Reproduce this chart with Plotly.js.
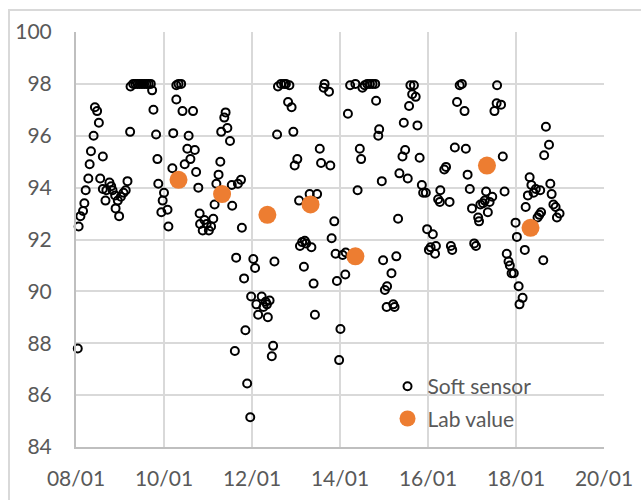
<!DOCTYPE html>
<html>
<head>
<meta charset="utf-8">
<script src="https://cdn.plot.ly/plotly-3.0.1.min.js"></script>
<style>
  html, body { margin: 0; padding: 0; background: #fff; overflow: hidden; }
  #chart { width: 641px; height: 500px; position: absolute; left: 0; top: 0; }
  #frame { position: absolute; left: 8px; top: 9px; width: 700px; height: 600px;
           border: 2px solid #d9d9d9; pointer-events: none; }
</style>
</head>
<body>
<div id="chart"></div>
<div id="frame"></div>
<script>
// ---- data (x in days: 8 = 08/01, 10 = 10/01, ...) ----
const softX = [
  8.04, 8.06, 8.10, 8.16, 8.19, 8.22, 8.28, 8.31, 8.34, 8.40, 8.43, 8.48, 8.52, 8.61, 8.55, 8.61, 8.67, 8.69, 8.76, 8.80,
  8.83, 8.89, 8.90, 8.95, 8.98, 9.02, 9.08, 9.13, 9.17, 9.23, 9.24, 9.30, 9.35, 9.40, 9.45, 9.50, 9.55, 9.60, 9.65, 9.70,
  9.73, 9.76, 9.82, 9.85, 9.87, 10.00, 9.97, 9.94, 10.08, 10.10, 10.19, 10.21, 10.28, 10.28, 10.33, 10.39, 10.42, 10.66, 10.56, 10.53,
  10.60, 10.70, 10.47, 10.73, 10.78, 10.81, 10.82, 10.88, 10.92, 10.97, 11.02, 11.07, 11.12, 11.15, 11.19, 11.24, 11.28, 11.30, 11.37, 11.40,
  11.44, 11.50, 11.55, 11.54, 11.68, 11.75, 11.61, 11.64, 11.77, 11.82, 11.85, 11.89, 11.96, 11.98, 12.03, 12.07, 12.10, 12.14, 12.22, 12.26,
  12.31, 12.34, 12.40, 12.36, 12.45, 12.48, 12.51, 12.57, 12.59, 12.66, 12.73, 12.77, 12.85, 12.82, 12.90, 12.94, 12.97, 13.03, 13.07, 13.09,
  13.14, 13.20, 13.23, 13.18, 13.31, 13.48, 13.35, 13.40, 13.43, 13.54, 13.57, 13.65, 13.63, 13.75, 13.78, 13.81, 13.87, 13.90, 13.93, 14.01,
  13.98, 14.06, 14.13, 14.12, 14.18, 14.23, 14.35, 14.40, 14.45, 14.48, 14.51, 14.56, 14.62, 14.68, 14.74, 14.80, 14.82, 14.87, 14.89, 14.95,
  14.98, 15.02, 15.07, 15.06, 15.17, 15.21, 15.24, 15.28, 15.32, 15.35, 15.42, 15.45, 15.48, 15.54, 15.57, 15.60, 15.68, 15.64, 15.72, 15.76,
  15.81, 15.86, 15.89, 15.95, 15.98, 16.02, 16.06, 16.11, 16.16, 16.18, 16.28, 16.23, 16.27, 16.37, 16.41, 16.49, 16.52, 16.55, 16.61, 16.66,
  16.72, 16.77, 16.83, 16.86, 16.90, 16.95, 17.00, 17.05, 17.09, 17.14, 17.16, 17.19, 17.25, 17.29, 17.32, 17.36, 17.40, 17.46, 17.51, 17.57,
  17.56, 17.66, 17.70, 17.74, 17.79, 17.83, 17.86, 17.90, 17.95, 17.99, 18.02, 18.06, 18.08, 18.15, 18.20, 18.22, 18.27, 18.31, 18.35, 18.40,
  18.45, 18.49, 18.53, 18.57, 18.55, 18.62, 18.64, 18.68, 18.75, 18.78, 18.81, 18.85, 18.90, 18.93, 18.99
];
const softY = [
  87.8, 92.5, 92.9, 93.1, 93.4, 93.9, 94.35, 94.9, 95.4, 96.0, 97.1, 96.95, 96.5, 95.2, 94.35, 93.95, 93.5, 93.9, 94.2, 94.05,
  93.9, 93.7, 93.2, 93.5, 92.9, 93.65, 93.8, 93.9, 94.25, 96.15, 97.9, 98.0, 98.0, 98.0, 98.0, 98.0, 98.0, 98.0, 98.0, 98.0,
  97.75, 97.0, 96.05, 95.1, 94.15, 93.8, 93.5, 93.05, 93.15, 92.5, 94.75, 96.1, 97.4, 97.95, 98.0, 98.0, 96.95, 96.95, 96.0, 95.5,
  95.1, 95.45, 94.9, 94.6, 94.0, 93.0, 92.6, 92.35, 92.75, 92.6, 92.35, 92.5, 92.8, 93.35, 94.15, 94.5, 95.0, 96.15, 96.7, 96.9,
  96.3, 95.8, 93.3, 94.1, 94.15, 94.3, 87.7, 91.3, 92.45, 90.5, 88.5, 86.45, 85.15, 89.8, 91.25, 90.9, 89.5, 89.1, 89.8, 89.4,
  89.6, 89.5, 89.65, 89.0, 87.5, 87.9, 91.15, 96.05, 97.9, 98.0, 98.0, 98.0, 97.95, 97.3, 97.1, 96.15, 94.85, 95.1, 93.5, 91.75,
  91.9, 91.95, 91.85, 90.95, 93.75, 93.75, 91.7, 90.3, 89.1, 95.5, 94.95, 98.0, 97.85, 97.7, 94.85, 92.05, 92.7, 91.45, 90.4, 88.55,
  87.35, 91.4, 91.5, 90.65, 96.85, 97.95, 98.0, 93.9, 95.5, 95.1, 97.85, 97.95, 98.0, 98.0, 98.0, 98.0, 97.35, 96.0, 96.25, 94.25,
  91.2, 90.05, 90.2, 89.4, 90.7, 89.5, 89.4, 91.35, 92.8, 94.55, 95.2, 96.5, 95.45, 94.35, 97.15, 97.95, 97.95, 97.6, 97.5, 96.4,
  95.15, 94.1, 93.8, 93.8, 92.4, 91.6, 91.7, 92.2, 91.45, 91.75, 93.9, 93.55, 93.45, 94.7, 94.8, 93.45, 91.75, 91.6, 95.55, 97.3,
  97.95, 98.0, 96.95, 95.5, 94.5, 93.95, 93.2, 91.85, 91.75, 92.85, 92.7, 93.35, 93.4, 93.5, 93.85, 93.05, 93.45, 93.65, 96.95, 97.95,
  97.25, 97.2, 95.2, 93.85, 91.45, 91.15, 91.0, 90.7, 90.7, 92.65, 92.1, 90.2, 89.5, 89.75, 91.6, 93.25, 93.7, 94.4, 94.1, 93.8,
  93.95, 92.85, 92.95, 93.05, 93.9, 91.2, 95.25, 96.35, 95.65, 94.15, 93.75, 93.35, 93.25, 92.85, 93.0
];
const labX = [10.33, 11.32, 12.35, 13.33, 14.35, 17.34, 18.33];
const labY = [94.3, 93.75, 92.95, 93.35, 91.35, 94.85, 92.45];
const xTickVals = [8, 10, 12, 14, 16, 18, 20];
const xTickText = ['08/01', '10/01', '12/01', '14/01', '16/01', '18/01', '20/01'];
const yTickVals = [84, 86, 88, 90, 92, 94, 96, 98, 100];

const fontFam = 'Lato, "Open Sans", sans-serif';
const gray = '#595959';

const traces = [
  {
    type: 'scatter', mode: 'markers', name: 'Soft sensor',
    x: softX, y: softY, legendgroup: 'a',
    marker: { symbol: 'circle-open', size: 8, color: '#000', line: { width: 2, color: '#000' } },
    cliponaxis: false
  },
  {
    type: 'scatter', mode: 'markers', name: 'Lab value',
    x: labX, y: labY, legendgroup: 'b',
    marker: { symbol: 'circle', size: 18, color: '#ED7D31' },
    cliponaxis: false
  }
];

const layout = {
  width: 641, height: 500,
  margin: { l: 76, r: 37, t: 32, b: 53 },
  paper_bgcolor: 'rgba(0,0,0,0)', plot_bgcolor: 'rgba(0,0,0,0)',
  font: { family: fontFam, size: 21, color: gray },
  showlegend: true,
  legend: {
    x: 0.59, y: 0.195, xanchor: 'left', yanchor: 'top',
    bgcolor: 'rgba(0,0,0,0)', traceorder: 'grouped', tracegroupgap: 2,
    font: { family: fontFam, size: 21, color: gray }
  },
  xaxis: {
    range: [8, 20], tickvals: xTickVals, ticktext: xTickText,
    showgrid: true, gridcolor: '#d9d9d9', gridwidth: 2,
    showline: true, linecolor: '#bfbfbf', linewidth: 2,
    zeroline: false, ticks: '', ticklabelstandoff: 12,
    tickfont: { family: fontFam, size: 21, color: gray }
  },
  yaxis: {
    range: [84, 100], tickvals: yTickVals,
    showgrid: true, gridcolor: '#d9d9d9', gridwidth: 2,
    showline: true, linecolor: '#bfbfbf', linewidth: 2,
    zeroline: false, ticks: '', ticklabelstandoff: 18,
    tickfont: { family: fontFam, size: 21, color: gray }
  }
};

Plotly.newPlot('chart', traces, layout, { displayModeBar: false, staticPlot: true });
</script>
</body>
</html>
